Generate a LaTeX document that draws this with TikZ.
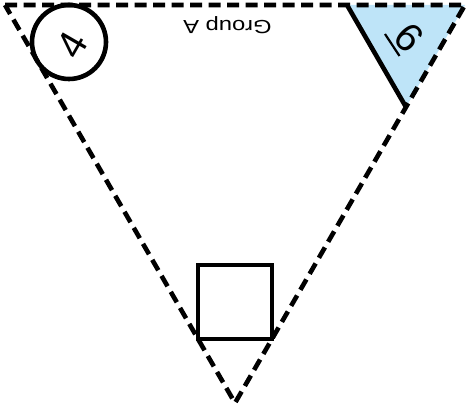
\documentclass[tikz,border=0pt]{standalone}
\usepackage{fontspec}
\setmainfont{Liberation Sans}
\newfontfamily\widesans[FakeStretch=1.25]{Liberation Sans}
\usetikzlibrary{calc}
\definecolor{cornerblue}{RGB}{190,228,248}

\begin{document}
\begin{tikzpicture}[
	x=1pt, y=1pt,
	% Styles for the outline, the marks and the texts
	groupedge/.style={line width=4.6pt, dash pattern=on 12pt off 6.5pt, line join=miter},
	solidedge/.style={line width=4.6pt},
	digittext/.style={font=\fontsize{40}{40}\selectfont, inner sep=0pt},
	grouplabel/.style={font=\widesans\fontsize{19}{19}\selectfont, inner sep=0pt}
	]
	\useasboundingbox (0,0) rectangle (467,412);
	
	% ==========================================
	% 1. CORNERS OF THE GROUP TRIANGLE
	% ==========================================
	\coordinate (tl) at (5,407);
	\coordinate (tr) at (465,407);
	\coordinate (apex) at (235,9);
	
	% ==========================================
	% 2. BLUE CORNER WITH THE SIX
	% ==========================================
	\coordinate (cornerleft) at ($(tr)!0.2565!(tl)$);
	\coordinate (cornertip) at ($(tr)!0.2565!(apex)$);
	\fill[cornerblue] (cornerleft) -- (tr) -- (cornertip) -- cycle;
	\draw[solidedge] (cornerleft) -- (cornertip);
	\node[digittext, rotate=-45] (six) at (409.5,374.5) {6};
	% bar beside the six
	\coordinate (barstart) at (385,378);
	\coordinate (barend) at (399.5,356);
	\draw[line width=2.2pt] (barstart) -- (barend);
	
	% ==========================================
	% 3. RING WITH THE FOUR
	% ==========================================
	\node[circle, draw, solidedge, minimum size=74pt, inner sep=0pt] (ring) at (69,370) {};
	\node[digittext, rotate=60] (four) at (72,367) {4};
	
	% ==========================================
	% 4. BOX ABOVE THE APEX
	% ==========================================
	\coordinate (boxleft) at ($(apex)!0.161!(tl)$);
	\coordinate (boxright) at ($(apex)!0.161!(tr)$);
	\draw[solidedge] (boxleft) rectangle ($(boxright)+(0,74)$);
	
	% Dashed outline and its upside-down title
	\draw[groupedge] (tl) -- (tr) -- (apex) -- cycle;
	\node[grouplabel, rotate=180] (grouptitle) at (227.5,386.5) {Group A};
	
\end{tikzpicture}
\end{document}
